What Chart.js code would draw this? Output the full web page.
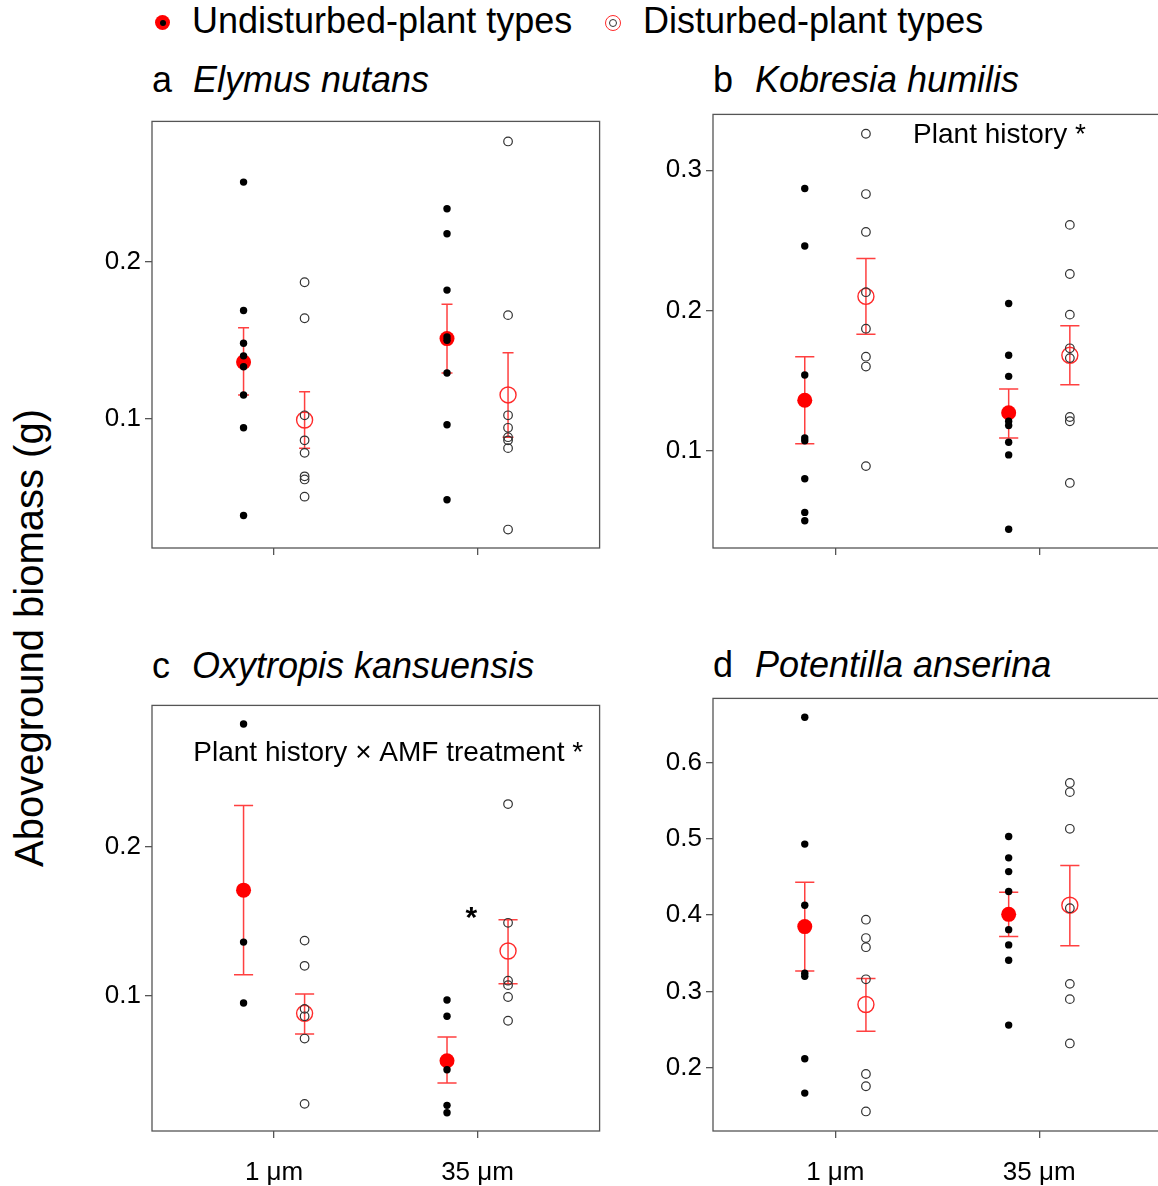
<!DOCTYPE html>
<html>
<head>
<meta charset="utf-8">
<script src="https://cdn.jsdelivr.net/npm/chart.js@4.4.1/dist/chart.umd.min.js"></script>
<style>
  body { margin: 0; width: 1158px; height: 1186px; overflow: hidden; background: #fff; position: relative;
         font-family: "Liberation Sans", Arial, sans-serif; }
  canvas { position: absolute; }
  .txt { position: absolute; white-space: nowrap; line-height: 1; color: #000; font-size: 36px; }
  .dot { position: absolute; border-radius: 50%; box-sizing: border-box; }
</style>
</head>
<body>
<!-- legend -->
<div class="dot" style="left:155px;top:15px;width:15px;height:15px;background:#ff0000"></div>
<div class="dot" style="left:159.5px;top:19.5px;width:6px;height:6px;background:#000"></div>
<div class="txt" style="left:192px;top:3px">Undisturbed-plant types</div>
<div class="dot" style="left:604.5px;top:14.5px;width:16px;height:16px;border:1.5px solid #ff2a2a"></div>
<div class="dot" style="left:608.5px;top:18.5px;width:8px;height:8px;border:1.3px solid #333"></div>
<div class="txt" style="left:643px;top:3px">Disturbed-plant types</div>

<!-- panel titles -->
<div class="txt" style="left:152px;top:61.5px">a</div>
<div class="txt" style="left:193px;top:61.5px"><i>Elymus nutans</i></div>
<div class="txt" style="left:713px;top:61.5px">b</div>
<div class="txt" style="left:755px;top:61.5px"><i>Kobresia humilis</i></div>
<div class="txt" style="left:152px;top:647.5px">c</div>
<div class="txt" style="left:192px;top:647.5px"><i>Oxytropis kansuensis</i></div>
<div class="txt" style="left:713px;top:646.5px">d</div>
<div class="txt" style="left:755px;top:646.5px"><i>Potentilla anserina</i></div>

<!-- y axis title -->
<div class="txt" style="left:-221px;top:618px;width:500px;text-align:center;font-size:40px;transform:rotate(-90deg)">Aboveground biomass (g)</div>

<canvas id="chartA" width="532" height="491" style="left:77px;top:112px"></canvas>
<canvas id="chartB" width="533" height="498" style="left:638px;top:105px"></canvas>
<canvas id="chartC" width="532" height="490" style="left:77px;top:696px"></canvas>
<canvas id="chartD" width="533" height="497" style="left:638px;top:689px"></canvas>

<script>
const categories = ["1 μm", "35 μm"];

// a  Elymus nutans
const aYTicks = [0.1, 0.2];
const aYRange = [0.0172, 0.2898];
const aUndPts = [[0.251, 0.169, 0.148, 0.140, 0.133, 0.115, 0.094, 0.038],
                 [0.234, 0.218, 0.182, 0.152, 0.150, 0.129, 0.096, 0.048]];
const aDisPts = [[0.187, 0.164, 0.102, 0.086, 0.078, 0.063, 0.061, 0.050],
                 [0.277, 0.166, 0.102, 0.094, 0.088, 0.086, 0.081, 0.029]];
const aUndMean = [0.136, 0.151], aUndLow = [0.115, 0.129], aUndHigh = [0.158, 0.173];
const aDisMean = [0.099, 0.115], aDisLow = [0.081, 0.088], aDisHigh = [0.117, 0.142];

// b  Kobresia humilis
const bYTicks = [0.1, 0.2, 0.3];
const bYRange = [0.0306, 0.3398];
const bUndPts = [[0.287, 0.246, 0.154, 0.109, 0.107, 0.080, 0.056, 0.050],
                 [0.205, 0.168, 0.153, 0.121, 0.118, 0.106, 0.097, 0.044]];
const bDisPts = [[0.326, 0.283, 0.256, 0.213, 0.187, 0.167, 0.160, 0.089],
                 [0.261, 0.226, 0.197, 0.173, 0.166, 0.124, 0.121, 0.077]];
const bUndMean = [0.136, 0.127], bUndLow = [0.105, 0.109], bUndHigh = [0.167, 0.144];
const bDisMean = [0.210, 0.168], bDisLow = [0.183, 0.147], bDisHigh = [0.237, 0.189];

// c  Oxytropis kansuensis
const cYTicks = [0.1, 0.2];
const cYRange = [0.0087, 0.2955];
const cUndPts = [[0.283, 0.136, 0.095],
                 [0.097, 0.086, 0.050, 0.026, 0.021]];
const cDisPts = [[0.137, 0.120, 0.091, 0.086, 0.071, 0.027],
                 [0.229, 0.149, 0.110, 0.107, 0.099, 0.083]];
const cUndMean = [0.171, 0.056], cUndLow = [0.114, 0.041], cUndHigh = [0.228, 0.072];
const cDisMean = [0.088, 0.130], cDisLow = [0.074, 0.108], cDisHigh = [0.101, 0.151];

// d  Potentilla anserina
const dYTicks = [0.2, 0.3, 0.4, 0.5, 0.6];
const dYRange = [0.1174, 0.6837];
const dUndPts = [[0.659, 0.493, 0.413, 0.324, 0.320, 0.212, 0.167],
                 [0.503, 0.475, 0.457, 0.431, 0.381, 0.361, 0.341, 0.256]];
const dDisPts = [[0.394, 0.370, 0.358, 0.316, 0.192, 0.176, 0.143],
                 [0.573, 0.561, 0.513, 0.409, 0.310, 0.290, 0.232]];
const dUndMean = [0.385, 0.401], dUndLow = [0.327, 0.372], dUndHigh = [0.443, 0.430];
const dDisMean = [0.283, 0.413], dDisLow = [0.248, 0.360], dDisHigh = [0.317, 0.465];

const FONT = '"Liberation Sans", Arial, sans-serif';
const DODGE = 0.15;
const FRAME = "#555";

function toPts(groups, off) {
  const out = [];
  groups.forEach((vals, i) => vals.forEach((v) => out.push({ x: i + 1 + off, y: v })));
  return out;
}
function toMeans(means, off) {
  return means.map((v, i) => ({ x: i + 1 + off, y: v }));
}
// fixed axis sizes, no automatic label padding
function fixSize(s, w, h) {
  if (w) s.width = w;
  if (h) s.height = h;
  s.paddingTop = 0; s.paddingBottom = 0; s.paddingLeft = 0; s.paddingRight = 0;
}

// frame + error bars drawn under the points, text notes on top
const panelPlugin = {
  id: "panelExtras",
  beforeDatasetsDraw(chart, args, opts) {
    const { ctx, chartArea, scales } = chart;
    ctx.save();
    ctx.strokeStyle = FRAME;
    ctx.lineWidth = 1.3;
    ctx.strokeRect(chartArea.left, chartArea.top, chartArea.right - chartArea.left, chartArea.bottom - chartArea.top);
    ctx.strokeStyle = "rgba(255,30,30,0.85)";
    ctx.lineWidth = 1.5;
    opts.bars.forEach((b) => {
      b.low.forEach((lo, i) => {
        const x = scales.x.getPixelForValue(i + 1 + b.off);
        const x0 = scales.x.getPixelForValue(i + 1 + b.off - opts.cap);
        const x1 = scales.x.getPixelForValue(i + 1 + b.off + opts.cap);
        const yl = scales.y.getPixelForValue(lo);
        const yh = scales.y.getPixelForValue(b.high[i]);
        ctx.beginPath();
        ctx.moveTo(x, yl); ctx.lineTo(x, yh);
        ctx.moveTo(x0, yl); ctx.lineTo(x1, yl);
        ctx.moveTo(x0, yh); ctx.lineTo(x1, yh);
        ctx.stroke();
      });
    });
    ctx.restore();
  },
  afterDatasetsDraw(chart, args, opts) {
    const { ctx, scales } = chart;
    ctx.save();
    ctx.fillStyle = "#000";
    (opts.notes || []).forEach((n) => {
      ctx.font = (n.weight || "normal") + " " + n.size + "px " + FONT;
      ctx.textAlign = "center";
      ctx.textBaseline = n.baseline || "middle";
      ctx.fillText(n.text, scales.x.getPixelForValue(n.x), scales.y.getPixelForValue(n.y));
    });
    ctx.restore();
  },
};

function makePanel(id, p) {
  const datasets = [
    { data: toPts(p.und, -DODGE), pointRadius: 3.7, backgroundColor: "#000", borderWidth: 0 },
    { data: toPts(p.dis, DODGE), pointRadius: 4.3, backgroundColor: "rgba(0,0,0,0)", borderColor: "#333", borderWidth: 1.2 },
    { data: toMeans(p.undMean, -DODGE), pointRadius: 7.5, backgroundColor: "#ff0000", borderWidth: 0 },
    { data: toMeans(p.disMean, DODGE), pointRadius: 8, backgroundColor: "rgba(0,0,0,0)", borderColor: "#ff2a2a", borderWidth: 1.4 },
  ];
  new Chart(document.getElementById(id), {
    type: "scatter",
    data: { datasets },
    plugins: [panelPlugin],
    options: {
      responsive: false,
      animation: false,
      devicePixelRatio: 1,
      events: [],
      layout: { padding: { top: 8, right: 6, left: 0, bottom: 0 } },
      plugins: {
        legend: { display: false },
        tooltip: { enabled: false },
        panelExtras: {
          cap: p.cap,
          notes: p.notes,
          bars: [
            { off: -DODGE, low: p.undLow, high: p.undHigh },
            { off: DODGE, low: p.disLow, high: p.disHigh },
          ],
        },
      },
      scales: {
        x: {
          type: "linear",
          min: 0.4,
          max: 2.6,
          afterBuildTicks: (s) => { s.ticks = categories.map((c, i) => ({ value: i + 1 })); },
          afterFit: (s) => fixSize(s, 0, 55),
          ticks: {
            autoSkip: false,
            maxRotation: 0,
            padding: 19,
            color: "#000",
            font: { family: FONT, size: 26 },
            callback: (v) => (p.showX ? categories[Math.round(v) - 1] : ""),
          },
          grid: { display: true, drawOnChartArea: false, drawTicks: true, tickLength: 7, color: FRAME, lineWidth: 1.3 },
          border: { display: false },
        },
        y: {
          type: "linear",
          min: p.yRange[0],
          max: p.yRange[1],
          afterBuildTicks: (s) => { s.ticks = p.yTicks.map((v) => ({ value: v })); },
          afterFit: (s) => fixSize(s, 75, 0),
          ticks: {
            autoSkip: false,
            padding: 4,
            color: "#000",
            font: { family: FONT, size: 26 },
            callback: (v) => v.toFixed(1),
          },
          grid: { display: true, drawOnChartArea: false, drawTicks: true, tickLength: 7, color: FRAME, lineWidth: 1.3 },
          border: { display: false },
        },
      },
    },
  });
}

makePanel("chartA", {
  yTicks: aYTicks, yRange: aYRange, und: aUndPts, dis: aDisPts,
  undMean: aUndMean, undLow: aUndLow, undHigh: aUndHigh,
  disMean: aDisMean, disLow: aDisLow, disHigh: aDisHigh,
  cap: 0.027, showX: false, notes: [],
});
makePanel("chartB", {
  yTicks: bYTicks, yRange: bYRange, und: bUndPts, dis: bDisPts,
  undMean: bUndMean, undLow: bUndLow, undHigh: bUndHigh,
  disMean: bDisMean, disLow: bDisLow, disHigh: bDisHigh,
  cap: 0.047, showX: false,
  notes: [{ text: "Plant history *", x: 1.805, y: 0.3246, size: 28 }],
});
makePanel("chartC", {
  yTicks: cYTicks, yRange: cYRange, und: cUndPts, dis: cDisPts,
  undMean: cUndMean, undLow: cUndLow, undHigh: cUndHigh,
  disMean: cDisMean, disLow: cDisLow, disHigh: cDisHigh,
  cap: 0.047, showX: true,
  notes: [
    { text: "Plant history × AMF treatment *", x: 1.561, y: 0.2632, size: 28 },
    { text: "*", x: 1.97, y: 0.146, size: 30, weight: "bold", baseline: "alphabetic" },
  ],
});
makePanel("chartD", {
  yTicks: dYTicks, yRange: dYRange, und: dUndPts, dis: dDisPts,
  undMean: dUndMean, undLow: dUndLow, undHigh: dUndHigh,
  disMean: dDisMean, disLow: dDisLow, disHigh: dDisHigh,
  cap: 0.047, showX: true, notes: [],
});
</script>
</body>
</html>
